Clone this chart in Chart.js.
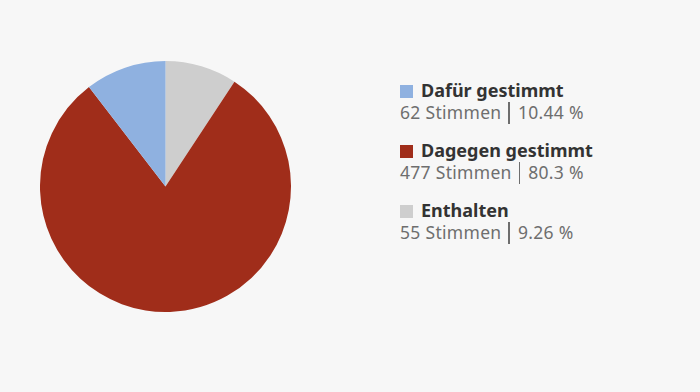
<!DOCTYPE html>
<html>
<head>
<meta charset="utf-8">
<script src="https://cdn.jsdelivr.net/npm/chart.js@4/dist/chart.umd.min.js"></script>
<style>
  html, body { margin: 0; padding: 0; background: #f7f7f7; }
  body { width: 700px; height: 392px; position: relative; overflow: hidden; font-family: "Noto Sans", sans-serif; }
  #pie-wrap { position: absolute; left: 40px; top: 61px; width: 251px; height: 251px; }
  #legend { position: absolute; left: 400px; top: 78px; }
  .item { height: 60px; }
  .title { font-weight: bold; font-size: 18px; color: #333; line-height: 24px; white-space: nowrap; }
  .box { display: inline-block; width: 13px; height: 13px; margin-right: 8px; vertical-align: -1px; }
  .sub { font-size: 17.5px; color: #6e6e6e; line-height: 20px; white-space: nowrap; letter-spacing: 0.3px; }
  .bar { display: inline-block; width: 1.5px; height: 22px; background: #6e6e6e; vertical-align: -5px; margin: 0 8px 0 7px; }
</style>
</head>
<body>
<div id="pie-wrap"><canvas id="pie"></canvas></div>
<div id="legend"></div>
<script>
  'use strict';

  // legend order
  var labels = ['Dafür gestimmt', 'Dagegen gestimmt', 'Enthalten'];
  var votes = [62, 477, 55];
  var percents = ['10.44', '80.3', '9.26'];
  var colors = ['#8fb1e0', '#a02d1a', '#cecece'];

  // drawing order clockwise from 12 o'clock
  var drawOrder = [2, 1, 0];

  var legend = document.getElementById('legend');
  labels.forEach(function (label, i) {
      var item = document.createElement('div');
      item.className = 'item';
      item.innerHTML =
          '<div class="title"><span class="box" style="background:' + colors[i] + '"></span>' + label + '</div>' +
          '<div class="sub">' + votes[i] + ' Stimmen<span class="bar"></span>' + percents[i] + ' %</div>';
      legend.appendChild(item);
  });

  var ctx = document.getElementById('pie').getContext('2d');
  window.myPie = new Chart(ctx, {
      type: 'pie',
      data: {
          labels: drawOrder.map(function (i) { return labels[i]; }),
          datasets: [{
              data: drawOrder.map(function (i) { return votes[i]; }),
              backgroundColor: drawOrder.map(function (i) { return colors[i]; }),
              borderWidth: 0
          }]
      },
      options: {
          responsive: true,
          maintainAspectRatio: false,
          animation: false,
          layout: { padding: 0 },
          plugins: {
              legend: { display: false },
              tooltip: { enabled: false }
          }
      }
  });
</script>
</body>
</html>
